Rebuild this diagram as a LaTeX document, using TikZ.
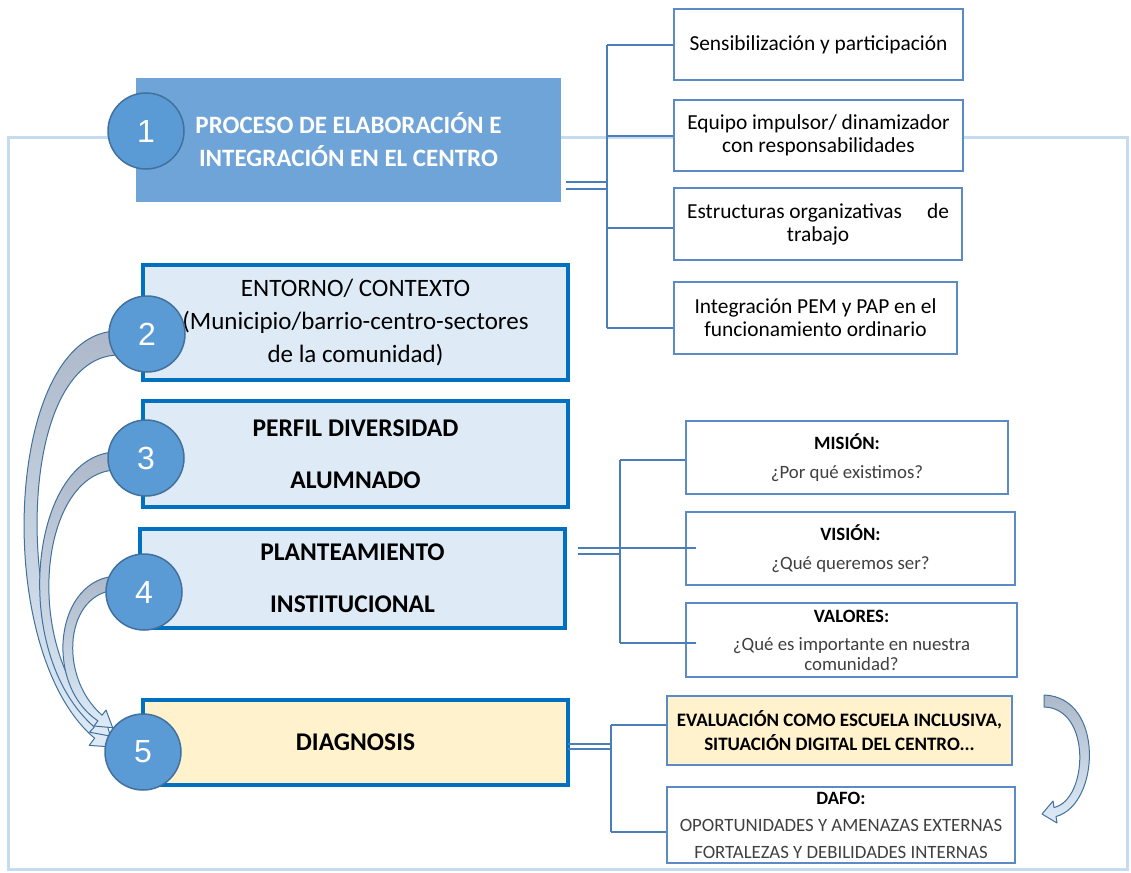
\documentclass[tikz,border=0pt]{standalone}
\usepackage{fontspec}
\setmainfont{Carlito}
\newfontfamily\numfont{Liberation Sans}
\usetikzlibrary{calc}
\definecolor{framecol}{HTML}{C5DCF0}
\definecolor{headblue}{HTML}{6FA4D8}
\definecolor{circfill}{HTML}{5B9BD5}
\definecolor{circedge}{HTML}{41719C}
\definecolor{stepedge}{HTML}{0070C0}
\definecolor{stepfill}{HTML}{DEEBF7}
\definecolor{diagfill}{HTML}{FFF2CC}
\definecolor{subedge}{HTML}{5B8BC6}
\definecolor{linkcol}{HTML}{4A7EBB}
\definecolor{arrowtail}{HTML}{ADB9CA}
\definecolor{arrowtip}{HTML}{DEEBF7}
\definecolor{softtext}{HTML}{404040}
\begin{document}
\begin{tikzpicture}[x=1pt,y=-1pt,
  headbox/.style={fill=headblue, text=white, inner sep=0pt, align=center,
    font=\bfseries\fontsize{25}{33}\selectfont},
  stepbox/.style={draw=stepedge, line width=4pt, fill=stepfill, minimum width=425pt,
    inner sep=0pt, align=center, font=\fontsize{25}{33}\selectfont},
  boldstep/.style={stepbox, font=\bfseries\fontsize{25.5}{33}\selectfont},
  numcirc/.style={circle, draw=circedge, line width=1.5pt, fill=circfill, minimum size=76pt,
    inner sep=0pt, text=white, font=\numfont\fontsize{32}{32}\selectfont},
  subbox/.style={draw=subedge, line width=2pt, fill=white, inner sep=0pt, align=center,
    font=\fontsize{21.4}{23}\selectfont},
  qbox/.style={draw=subedge, line width=2pt, fill=white, inner sep=0pt, align=center,
    font=\fontsize{18.8}{20}\selectfont},
  link/.style={draw=linkcol, line width=2pt},
  thinlink/.style={draw=linkcol, line width=1.5pt},
  bigarrow/.style={draw=circedge, line width=1pt, top color=arrowtail, bottom color=arrowtip,
    line join=round}]
\useasboundingbox (0,0) rectangle (1131,872);

% outer frame
\draw[framecol, line width=3pt] (8,137) rectangle (1127,869);

% main column
\node[headbox, minimum width=425pt, minimum height=124pt] (b1) at (348.5,140)
  {PROCESO DE ELABORACIÓN E\\INTEGRACIÓN EN EL CENTRO};
\node[stepbox, minimum height=115pt] (b2) at (355.5,322.5)
  {ENTORNO/ CONTEXTO\\(Municipio/barrio-centro-sectores\\de la comunidad)};
\node[boldstep, minimum height=106pt] (b3) at (355.5,454)
  {PERFIL DIVERSIDAD\\[19pt]ALUMNADO};
\node[boldstep, minimum height=99pt] (b4) at (352.5,578.5)
  {PLANTEAMIENTO\\[19pt]INSTITUCIONAL};
\node[boldstep, minimum height=85pt, fill=diagfill] (b5) at (355.5,742.5)
  {DIAGNOSIS};

% first branch
\node[subbox, minimum width=289pt, minimum height=71pt] (s1) at (818.5,44.5)
  {Sensibilización y participación};
\node[subbox, minimum width=289pt, minimum height=71pt] (s2) at (818.5,135.5)
  {Equipo impulsor/ dinamizador\\con responsabilidades};
\node[subbox, minimum width=288pt, minimum height=72pt] (s3) at (818,224)
  {Estructuras organizativas\hspace{25pt}de\\trabajo};
\node[subbox, minimum width=283pt, minimum height=72pt] (s4) at (815.5,318)
  {Integración PEM y PAP en el\\funcionamiento ordinario};

% second branch
\node[qbox, minimum width=322pt, minimum height=73pt] (m1) at (847,457.5)
  {\textbf{MISIÓN:}\\[9pt]{\color{softtext}¿Por qué existimos?}};
\node[qbox, minimum width=329pt, minimum height=73pt] (m2) at (850.5,548.5)
  {\textbf{VISIÓN:}\\[9pt]{\color{softtext}¿Qué queremos ser?}};
\node[qbox, minimum width=331pt, minimum height=74pt] (m3) at (851.5,640)
  {\textbf{VALORES:}\\[8pt]{\color{softtext}¿Qué es importante en nuestra}\\{\color{softtext}comunidad?}};

% third branch
\node[qbox, minimum width=345pt, minimum height=69pt, fill=diagfill,
  font=\bfseries\fontsize{19}{24}\selectfont] (e1) at (839.5,730.5)
  {EVALUACIÓN COMO ESCUELA INCLUSIVA,\\SITUACIÓN DIGITAL DEL CENTRO...};
\node[qbox, minimum width=348pt, minimum height=76pt] (e2) at (841,825)
  {\textbf{DAFO:}\\[7pt]{\color{softtext}OPORTUNIDADES Y AMENAZAS EXTERNAS}\\[7pt]{\color{softtext}FORTALEZAS Y DEBILIDADES INTERNAS}};

% bracket connectors, first branch
\coordinate (p1) at (607,45);
\coordinate (p2) at (607,136);
\coordinate (p3) at (607,228);
\coordinate (p4) at (607,328);
\draw[link] (p1) -- (p4);
\draw[link] (p1) -- (p1 -| s1.west);
\draw[link] (p2) -- (p2 -| s2.west);
\draw[link] (p3) -- (p3 -| s3.west);
\draw[link] (p4) -- (p4 -| s4.west);
\coordinate (q1) at (566,182);
\coordinate (q2) at (566,189);
\draw[link, line width=2.5pt] (q1) -- (q1 -| p1);
\draw[thinlink] (q2) -- (q2 -| p1);

% bracket connectors, second branch
\coordinate (r1) at (620,460);
\coordinate (r2) at (620,548);
\coordinate (r3) at (620,643);
\coordinate (w2) at (578,548);
\coordinate (w3) at (578,554);
\draw[link] (r1) -- (r3);
\draw[link] (r1) -- (r1 -| m1.west);
\draw[link] (w2) -- ($(r2 -| m2.west)+(11,0)$);
\draw[thinlink] (w3) -- (w3 -| r1);
\draw[link] (r3) -- ($(r3 -| m3.west)+(11,0)$);

% bracket connectors, third branch
\coordinate (t1) at (611,725);
\coordinate (t2) at (611,832);
\coordinate (u1) at (568,744);
\coordinate (u2) at (568,749);
\draw[link] (t1) -- (t2);
\draw[link] (t1) -- (t1 -| e1.west);
\draw[link] (t2) -- (t2 -| e2.west);
\draw[link] (u1) -- (u1 -| t1);
\draw[thinlink] (u2) -- (u2 -| t1);

% curved arrows feeding step 5
\path[bigarrow] (118,331) .. controls (5,331) and (-10,650) .. (94.6,738.2)
  -- (89.2,745.4) -- (113,747) -- (104.8,724.6) -- (99.4,731.8)
  .. controls (12,640) and (15,357) .. (118,355) -- cycle;
\path[bigarrow] (118,452) .. controls (30,451) and (8,652) .. (94.3,727)
  -- (89.6,732.2) -- (110.4,736.1) -- (104.4,715.8) -- (99.7,721)
  .. controls (20,646) and (40,469) .. (118,470) -- cycle;
\path[bigarrow] (118,576) .. controls (55,577) and (43,684) .. (97.9,720.8)
  -- (94,726) -- (112.7,727.7) -- (106,710) -- (102.1,715.2)
  .. controls (57,676) and (65,591) .. (118,590) -- cycle;

% curved arrow beside the diagnosis results
\path[bigarrow] (1044,695) .. controls (1105,697) and (1100,805) .. (1056,816.5)
  -- (1057,823) -- (1042,814) -- (1053,801) -- (1054,807.5)
  .. controls (1088,800) and (1092,708) .. (1044,707) -- cycle;

% step numbers
\node[numcirc] (c1) at (146,131) {1};
\node[numcirc] (c2) at (147,334) {2};
\node[numcirc] (c3) at (146,458) {3};
\node[numcirc] (c4) at (144,592) {4};
\node[numcirc] (c5) at (143,752) {5};
\end{tikzpicture}
\end{document}
